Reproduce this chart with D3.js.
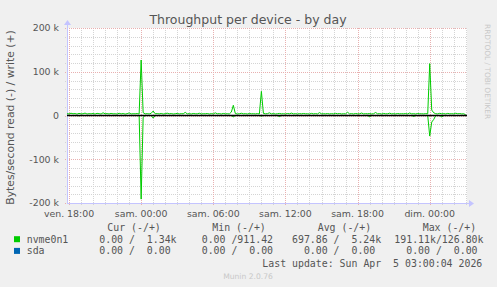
<!DOCTYPE html>
<html>
<head>
<meta charset="utf-8">
<script src="https://cdn.jsdelivr.net/npm/d3@7"></script>
<style>
body { margin: 0; background: #f0f0f0; }
svg { display: block; font-family: "DejaVu Sans", sans-serif; }
.mono { font-family: "DejaVu Sans Mono", monospace; white-space: pre; font-size: 9.9px; fill: #555; }
.grid line { shape-rendering: crispEdges; }
</style>
</head>
<body>
<div id="chart"></div>
<script>
// nvme0n1, 10 minute samples from Fri 17:50 to Sun 03:00, in kB/s
let writeK = [
  4.1, 3.6, 5.2, 3.9, 4.4, 3.2, 4.8, 3.7, 4.0, 5.5, 3.4, 4.2,
  3.8, 4.6, 3.3, 4.9, 4.1, 3.5, 6.2, 3.9, 4.3, 3.6, 4.7, 3.8,
  4.0, 3.4, 5.1, 3.7, 4.5, 3.3, 4.2, 5.8, 3.6, 4.1, 3.9, 4.4,
  3.5, 126.8, 6.4, 3.8, 4.2, 3.6, 5.0, 10.2, 3.9, 4.3, 3.7, 4.6,
  3.4, 4.1, 5.3, 3.8, 4.4, 3.5, 4.0, 4.8, 3.6, 4.2, 3.9, 7.1,
  3.7, 4.3, 3.5, 4.6, 4.0, 3.8, 5.2, 3.6, 4.1, 3.9, 4.5, 3.4,
  4.2, 3.7, 6.0, 3.9, 4.3, 3.5, 4.7, 3.8, 4.1, 3.6, 7.8, 23.4,
  4.4, 3.6, 4.0, 5.1, 3.8, 4.2, 3.5, 4.6, 3.9, 4.1, 3.7, 4.3,
  3.6, 55.2, 4.8, 3.9, 4.2, 6.1, 3.7, 4.4, 3.5, 4.0, 4.7, 3.8,
  4.1, 3.6, 4.5, 3.9, 5.4, 3.7, 4.2, 3.5, 4.3, 3.8, 4.6, 3.9,
  4.0, 3.5, 4.8, 3.7, 4.3, 3.6, 6.5, 3.9, 4.1, 3.8, 4.4, 3.6,
  4.2, 3.7, 5.0, 3.9, 4.5, 3.6, 4.1, 3.8, 7.4, 3.7, 4.3, 3.5,
  4.6, 3.8, 4.0, 5.6, 3.7, 4.2, 3.9, 4.4, 3.6, 4.1, 6.8, 3.8,
  4.3, 3.5, 4.7, 3.9, 4.0, 5.3, 3.7, 4.2, 3.6, 4.5, 3.8, 4.1,
  3.9, 4.4, 3.6, 5.7, 3.8, 4.2, 3.5, 4.6, 3.9, 4.0, 3.7, 4.3,
  3.8, 118.5, 12.4, 6.2, 4.1, 3.7, 5.0, 3.9, 4.3, 3.6, 4.8, 3.8,
  4.1, 3.7, 5.2, 3.9, 4.4, 3.6, 4.0, 1.34
];
let readK = [
  0, 0, 0, 0, 0, 0, 0.6, 0, 0, 0, 0, 0,
  0, 0, 0, 0, 0, 0, 0, 0, 0, 0, 0, 0,
  0, 0, 0, 0, 0, 0, 0, 0, 0, 0, 0, 0,
  0, 191.11, 4.0, 0, 0, 0, 0, 6.0, 0, 0, 0, 0,
  0, 0, 0, 0, 0, 0, 0, 0, 0, 0, 0, 0,
  0, 0, 0, 0, 0, 0, 0, 0, 0, 0, 0, 0,
  0, 0, 0, 0, 0, 0, 0, 0, 0, 0, 0, 3.0,
  0, 0, 0, 0, 0, 0, 0, 0, 0, 0, 0, 0,
  0, 1.5, 0, 0, 0, 0, 0, 0, 0, 0, 2.5, 0,
  0, 0, 0, 0, 0, 0, 0, 0, 0, 0, 0, 0,
  0, 0, 0, 0, 0, 0, 0, 0, 0, 0, 0, 0,
  0, 0, 0, 0, 0, 0, 0, 0, 0, 0, 0, 0,
  0, 0, 0, 0, 0, 0, 0, 2.8, 0, 0, 0, 0,
  0, 0, 0, 0, 0, 0, 0, 0, 0, 0, 0, 0,
  0, 0, 0, 0, 0, 2.2, 0, 0, 0, 0, 0, 0,
  0, 47.0, 15.0, 9.0, 0, 0, 0, 3.2, 0, 0, 0, 0,
  0, 0, 0, 0, 0, 0, 0, 0
];
let sdaK = [0, 0];

let yTickValues = [-200000, -100000, 0, 100000, 200000];
let yTickLabels = ["-200 k", "-100 k", "0", "100 k", "200 k"];
let dayNames = ["dim.", "lun.", "mar.", "mer.", "jeu.", "ven.", "sam."];

let legendHeads = ["Cur (-/+)", "Min (-/+)", "Avg (-/+)", "Max (-/+)"];
let seriesNames = ["nvme0n1", "sda"];
let seriesColors = ["#00cc00", "#0066b3"];
let nvmeStats = ["  0.00 /  1.34k", "  0.00 /911.42 ", "697.86 /  5.24k", "191.11k/126.80k"];
let sdaStats = ["  0.00 /  0.00 ", "  0.00 /  0.00 ", "  0.00 /  0.00 ", "  0.00 /  0.00 "];

let dim = { width: 497, height: 287, left: 67, right: 467, top: 28, bottom: 203 };

let t0 = new Date(2026, 3, 3, 17, 50);
let stepMs = 10 * 60 * 1000;
let timeOf = function(i) { return new Date(t0.getTime() + i * stepMs); };

let x = d3.scaleTime()
    .domain([t0, new Date(2026, 3, 5, 3, 6)])
    .range([dim.left, dim.right]);

let y = d3.scaleLinear()
    .domain([-200000, 200000])
    .range([dim.bottom, dim.top]);

let svg = d3.select("#chart").append("svg")
    .attr("width", dim.width)
    .attr("height", dim.height);

svg.append("rect")
    .attr("width", dim.width).attr("height", dim.height)
    .attr("fill", "#f0f0f0");

svg.append("rect")
    .attr("x", dim.left).attr("y", dim.top)
    .attr("width", dim.right - dim.left).attr("height", dim.bottom - dim.top)
    .attr("fill", "#ffffff");

// grid: minor first, then major (minor skips the major positions)
let sixTicks = x.ticks(d3.timeHour.every(6));
let hourTicks = x.ticks(d3.timeHour.every(1)).filter(d => d.getHours() % 6 !== 0);
let minorY = d3.range(-200000, 200001, 20000).filter(v => v % 100000 !== 0);

function gridV(values, color) {
    svg.append("g").attr("class", "grid")
        .selectAll("line").data(values).enter().append("line")
        .attr("x1", d => Math.round(x(d)) + 0.5).attr("x2", d => Math.round(x(d)) + 0.5)
        .attr("y1", dim.top).attr("y2", dim.bottom + 2)
        .attr("stroke", color)
        .attr("stroke-dasharray", "1,1");
}
function gridH(values, color) {
    svg.append("g").attr("class", "grid")
        .selectAll("line").data(values).enter().append("line")
        .attr("x1", dim.left - 2).attr("x2", dim.right)
        .attr("y1", d => Math.round(y(d)) + 0.5).attr("y2", d => Math.round(y(d)) + 0.5)
        .attr("stroke", color)
        .attr("stroke-dasharray", "1,1");
}
gridV(hourTicks, "#d4d4d4");
gridH(minorY, "#d4d4d4");
gridV(sixTicks, "#e8b0b0");
gridH(yTickValues, "#e8b0b0");

// axes lines with arrows
let axisColor = "#c4c4ff";
svg.append("line")
    .attr("x1", dim.left + 0.5).attr("x2", dim.left + 0.5)
    .attr("y1", dim.bottom).attr("y2", dim.top - 4)
    .attr("stroke", axisColor);
svg.append("path")
    .attr("d", "M" + (dim.left - 3) + "," + (dim.top - 3) + "L" + (dim.left + 0.5) + "," + (dim.top - 8) + "L" + (dim.left + 4) + "," + (dim.top - 3) + "Z")
    .attr("fill", axisColor);
svg.append("line")
    .attr("x1", dim.left).attr("x2", dim.right + 3)
    .attr("y1", dim.bottom + 0.5).attr("y2", dim.bottom + 0.5)
    .attr("stroke", axisColor);
svg.append("path")
    .attr("d", "M" + (dim.right + 2) + "," + (dim.bottom - 3) + "L" + (dim.right + 7) + "," + (dim.bottom + 0.5) + "L" + (dim.right + 2) + "," + (dim.bottom + 4) + "Z")
    .attr("fill", axisColor);

// tick labels
let hm = d3.timeFormat("%H:%M");
svg.append("g")
    .selectAll("text").data(sixTicks).enter().append("text")
    .attr("x", d => x(d))
    .attr("y", 216.5)
    .attr("text-anchor", "middle")
    .attr("font-size", "9.4px")
    .attr("fill", "#555")
    .text(d => dayNames[d.getDay()] + " " + hm(d));

svg.append("g")
    .selectAll("text").data(yTickValues).enter().append("text")
    .attr("x", 59)
    .attr("y", d => y(d) + 3.4)
    .attr("text-anchor", "end")
    .attr("font-size", "9.4px")
    .attr("fill", "#555")
    .text((d, i) => yTickLabels[i]);

// series
let line = d3.line()
    .x(d => x(d.t))
    .y(d => y(d.v));

let sdaData = [{ t: t0, v: sdaK[0] * 1000 }, { t: timeOf(writeK.length - 1), v: sdaK[1] * 1000 }];
svg.append("path").datum(sdaData)
    .attr("d", line).attr("fill", "none")
    .attr("stroke", seriesColors[1]).attr("stroke-width", 1);

let readData = readK.map((v, i) => ({ t: timeOf(i), v: -v * 1000 }));
let writeData = writeK.map((v, i) => ({ t: timeOf(i), v: v * 1000 }));
svg.append("path").datum(readData)
    .attr("d", line).attr("fill", "none")
    .attr("stroke", seriesColors[0]).attr("stroke-width", 1);
svg.append("path").datum(writeData)
    .attr("d", line).attr("fill", "none")
    .attr("stroke", seriesColors[0]).attr("stroke-width", 1);

// zero rule
svg.append("line")
    .attr("x1", dim.left).attr("x2", dim.right)
    .attr("y1", y(0)).attr("y2", y(0))
    .attr("stroke", "#000").attr("stroke-width", 1.6);

// title and labels
svg.append("text")
    .attr("x", 248).attr("y", 23.5)
    .attr("text-anchor", "middle")
    .attr("font-size", "12.5px")
    .attr("fill", "#555")
    .text("Throughput per device - by day");

svg.append("text")
    .attr("transform", "translate(14," + 117.5 + ") rotate(-90)")
    .attr("text-anchor", "middle")
    .attr("font-size", "10.8px")
    .attr("fill", "#555")
    .text("Bytes/second read (-) / write (+)");

svg.append("text")
    .attr("transform", "translate(485,24) rotate(90)")
    .attr("font-size", "7.4px")
    .attr("fill", "#c8c8c8")
    .text("RRDTOOL / TOBI OETIKER");

// legend
let headX = [107.3, 212.3, 317.7, 422.7];
let colX = [87.4, 189.8, 292, 394.3];
svg.append("g")
    .selectAll("text").data(legendHeads).enter().append("text")
    .attr("class", "mono")
    .attr("x", (d, i) => headX[i]).attr("y", 231)
    .text(d => d);

[nvmeStats, sdaStats].forEach(function(stats, r) {
    let yy = 242.7 + r * 11.7;
    svg.append("rect")
        .attr("x", 14).attr("y", yy - 6.5)
        .attr("width", 6).attr("height", 6)
        .attr("fill", seriesColors[r]);
    svg.append("text").attr("class", "mono")
        .attr("x", 26.7).attr("y", yy)
        .text(seriesNames[r]);
    svg.append("g")
        .selectAll("text").data(stats).enter().append("text")
        .attr("class", "mono")
        .attr("x", (d, i) => colX[i]).attr("y", yy)
        .text(d => d);
});

svg.append("text").attr("class", "mono")
    .attr("x", 482.3).attr("y", 266.8)
    .attr("text-anchor", "end")
    .text("Last update: Sun Apr  5 03:00:04 2026");

svg.append("text")
    .attr("x", 248).attr("y", 278.8)
    .attr("text-anchor", "middle")
    .attr("font-size", "7.6px")
    .attr("fill", "#c8c8c8")
    .text("Munin 2.0.76");
</script>
</body>
</html>
